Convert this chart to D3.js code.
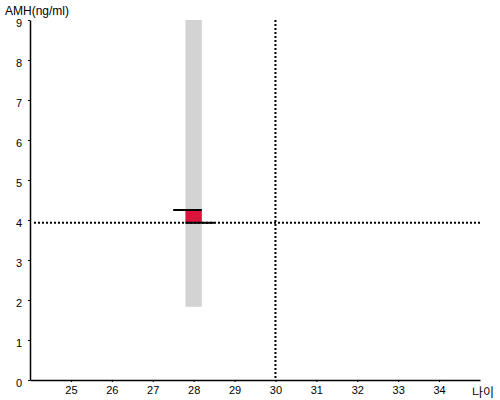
<!DOCTYPE html>
<html>
  <head>
    <script type="text/javascript" src="https://d3js.org/d3.v7.min.js"></script>
    <style>
      body { margin: 0; background: #fff; }
      text { font-family: "Liberation Sans", Arial, sans-serif; }
    </style>
  </head>
  <body>
  </body>
  <script>

  // ages on the x axis, AMH values on the y axis
  var xTicks = [25, 26, 27, 28, 29, 30, 31, 32, 33, 34];
  var yTicks = [0, 1, 2, 3, 4, 5, 6, 7, 8, 9];

  var age = 28;
  var rangeLow = 1.83, rangeHigh = 9;      // grey reference band
  var prevValue = 4.25;                    // upper black marker
  var curValue = 3.93;                     // lower black marker / dotted line
  var refAge = 30;                         // vertical dotted line

  var svg = d3.select("body").append("svg")
              .attr("width", 500)
              .attr("height", 400);

  var x = d3.scaleLinear().domain([24, 35]).range([30, 480]);
  var y = d3.scaleLinear().domain([0, 9]).range([380, 20]);

  // grey band
  svg.append("rect")
     .attr("x", x(age - 0.2))
     .attr("width", x(age + 0.2) - x(age - 0.2))
     .attr("y", y(rangeHigh))
     .attr("height", y(rangeLow) - y(rangeHigh))
     .style("fill", "#d3d3d3");

  // red block between the two values
  svg.append("rect")
     .attr("x", x(age - 0.2))
     .attr("width", x(age + 0.2) - x(age - 0.2))
     .attr("y", y(prevValue))
     .attr("height", y(curValue) - y(prevValue))
     .style("fill", "#dc143c");

  svg.append("line")
     .attr("x1", x(age - 0.5)).attr("x2", x(age + 0.2))
     .attr("y1", y(prevValue)).attr("y2", y(prevValue))
     .style("stroke", "#000").style("stroke-width", 2);

  svg.append("line")
     .attr("x1", x(age - 0.2)).attr("x2", x(age + 0.5))
     .attr("y1", y(curValue)).attr("y2", y(curValue))
     .style("stroke", "#000").style("stroke-width", 2);

  // dotted guide lines
  svg.append("line")
     .attr("x1", x(24) + 4).attr("x2", x(35))
     .attr("y1", y(curValue)).attr("y2", y(curValue))
     .style("stroke", "#000").style("stroke-width", 2)
     .style("stroke-dasharray", "2,2");

  svg.append("line")
     .attr("x1", x(refAge)).attr("x2", x(refAge))
     .attr("y1", y(9)).attr("y2", y(0))
     .style("stroke", "#000").style("stroke-width", 2)
     .style("stroke-dasharray", "2,2");

  // axes
  var xAxis = svg.append("g")
     .attr("transform", "translate(0,380)")
     .call(d3.axisBottom(x).tickValues(xTicks).tickSize(2).tickSizeOuter(0).tickPadding(4));

  var yAxis = svg.append("g")
     .attr("transform", "translate(30,0)")
     .call(d3.axisLeft(y).tickValues(yTicks).tickSize(2).tickSizeOuter(0).tickPadding(6));

  yAxis.selectAll(".tick text").attr("dy", "0.55em");

  svg.selectAll(".domain").style("stroke-width", 1.5);
  svg.selectAll(".tick text")
     .style("font-family", "'Liberation Sans', Arial, sans-serif")
     .style("font-size", "11px")
     .style("fill", "#000");

  svg.append("text")
     .attr("x", 5).attr("y", 15)
     .style("font-size", "12px")
     .text("AMH(ng/ml)");

  svg.append("text")
     .attr("x", 472).attr("y", 397)
     .style("font-family", "'Noto Sans CJK KR', sans-serif")
     .style("font-size", "12px")
     .text("나이");

  </script>
</html>
